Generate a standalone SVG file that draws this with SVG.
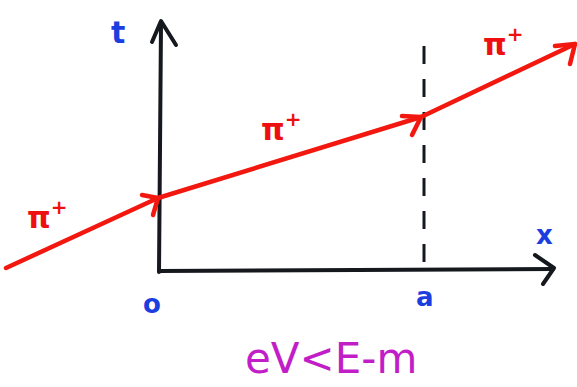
<svg xmlns="http://www.w3.org/2000/svg" width="577" height="387" viewBox="0 0 577 387">
<style>
.ax{stroke:#15191e;stroke-width:4;fill:none;stroke-linecap:round;stroke-linejoin:round}
.dash{stroke:#15191e;stroke-width:3;fill:none;stroke-dasharray:18 15}
.red{stroke:#f2180f;stroke-width:4.5;fill:none;stroke-linecap:round;stroke-linejoin:round}
.blue{fill:#1c3ee0;font-family:"DejaVu Sans",sans-serif;font-weight:bold}
.pi{fill:#ee1010;font-family:"DejaVu Sans",sans-serif;font-weight:bold;font-size:30px}
.eq{fill:#c21ec8;font-family:"DejaVu Sans",sans-serif;font-size:42px}
</style>
<rect width="577" height="387" fill="#fff"/>
<g id="axes">
<path class="ax" d="M159 272 L161 24"/>
<path class="ax" d="M152 42 L161 21 L176 45"/>
<path class="ax" d="M159 271 L553 269"/>
<path class="ax" d="M535 255 L554 268 L543 284"/>
</g>
<g id="connectors">
<path class="dash" d="M424 46 L424 265"/>
<path class="red" d="M6 268 L158 198 L421 117 L575 44"/>
<path class="red" d="M142 195 L158 198 L153 215"/>
<path class="red" d="M402 116 L421 117 L412 135"/>
<path class="red" d="M555 46 L575 44 L570 64"/>
</g>
<g id="labels">
<text class="blue" x="111" y="43" font-size="30">t</text>
<text class="blue" x="536" y="244" font-size="26">x</text>
<text class="blue" x="143" y="313" font-size="26">o</text>
<text class="blue" x="416" y="306" font-size="26">a</text>
<text class="pi" x="27" y="228">π<tspan dy="-14" font-size="20">+</tspan></text>
<text class="pi" x="261" y="140">π<tspan dy="-14" font-size="20">+</tspan></text>
<text class="pi" x="483" y="55">π<tspan dy="-14" font-size="20">+</tspan></text>
<text class="eq" x="245" y="373">eV&lt;E-m</text>
</g>
</svg>
